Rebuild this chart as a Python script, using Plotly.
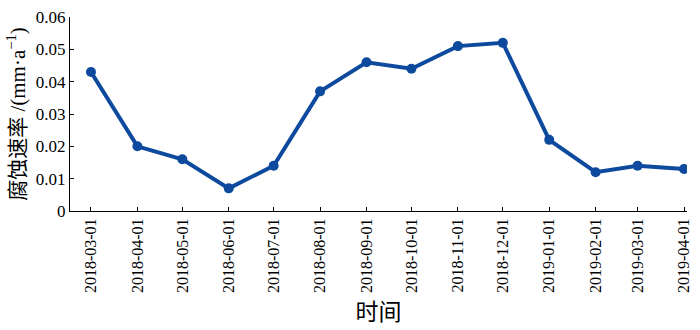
import plotly.graph_objects as go

dates = ["2018-03-01", "2018-04-01", "2018-05-01", "2018-06-01", "2018-07-01",
         "2018-08-01", "2018-09-01", "2018-10-01", "2018-11-01", "2018-12-01",
         "2019-01-01", "2019-02-01", "2019-03-01", "2019-04-01"]
rates = [0.043, 0.020, 0.016, 0.007, 0.014, 0.037, 0.046, 0.044, 0.051, 0.052,
         0.022, 0.012, 0.014, 0.013]
y_ticks = [0, 0.01, 0.02, 0.03, 0.04, 0.05, 0.06]
y_ticklabels = ["0", "0.01", "0.02", "0.03", "0.04", "0.05", "0.06"]

font_family = "Times New Roman, Liberation Serif, serif"
color = "#0D4A9E"

fig = go.Figure(go.Scatter(
    x=dates, y=rates, mode="lines+markers",
    line=dict(color=color, width=4),
    marker=dict(color=color, size=10),
))

fig.update_layout(
    width=700, height=330,
    margin=dict(l=70, r=8, t=10, b=119),
    paper_bgcolor="white", plot_bgcolor="white",
    showlegend=False,
    font=dict(family=font_family, color="black"),
)
fig.update_xaxes(
    type="date",
    range=["2018-02-15", "2019-04-03"],
    tickvals=dates, ticktext=dates, tickangle=-90,
    tickfont=dict(size=16, family=font_family),
    ticks="inside", ticklen=4, tickcolor="black",
    showline=True, linecolor="black", linewidth=1,
    showgrid=False, zeroline=False,
    title=dict(text="时间", font=dict(size=23, family="Noto Sans CJK SC"), standoff=2),
)
fig.update_yaxes(
    range=[0, 0.06],
    tickvals=y_ticks, ticktext=y_ticklabels,
    tickfont=dict(size=17, family=font_family),
    ticks="inside", ticklen=4, tickcolor="black",
    showline=True, linecolor="black", linewidth=1,
    showgrid=False, zeroline=False,
    title=dict(text="<span style=\"font-family:'Noto Sans CJK SC'\">腐蚀速率</span> /(mm·a<sup>−1</sup>)",
               font=dict(size=21, family=font_family), standoff=4),
)

fig.write_html("out.html")
